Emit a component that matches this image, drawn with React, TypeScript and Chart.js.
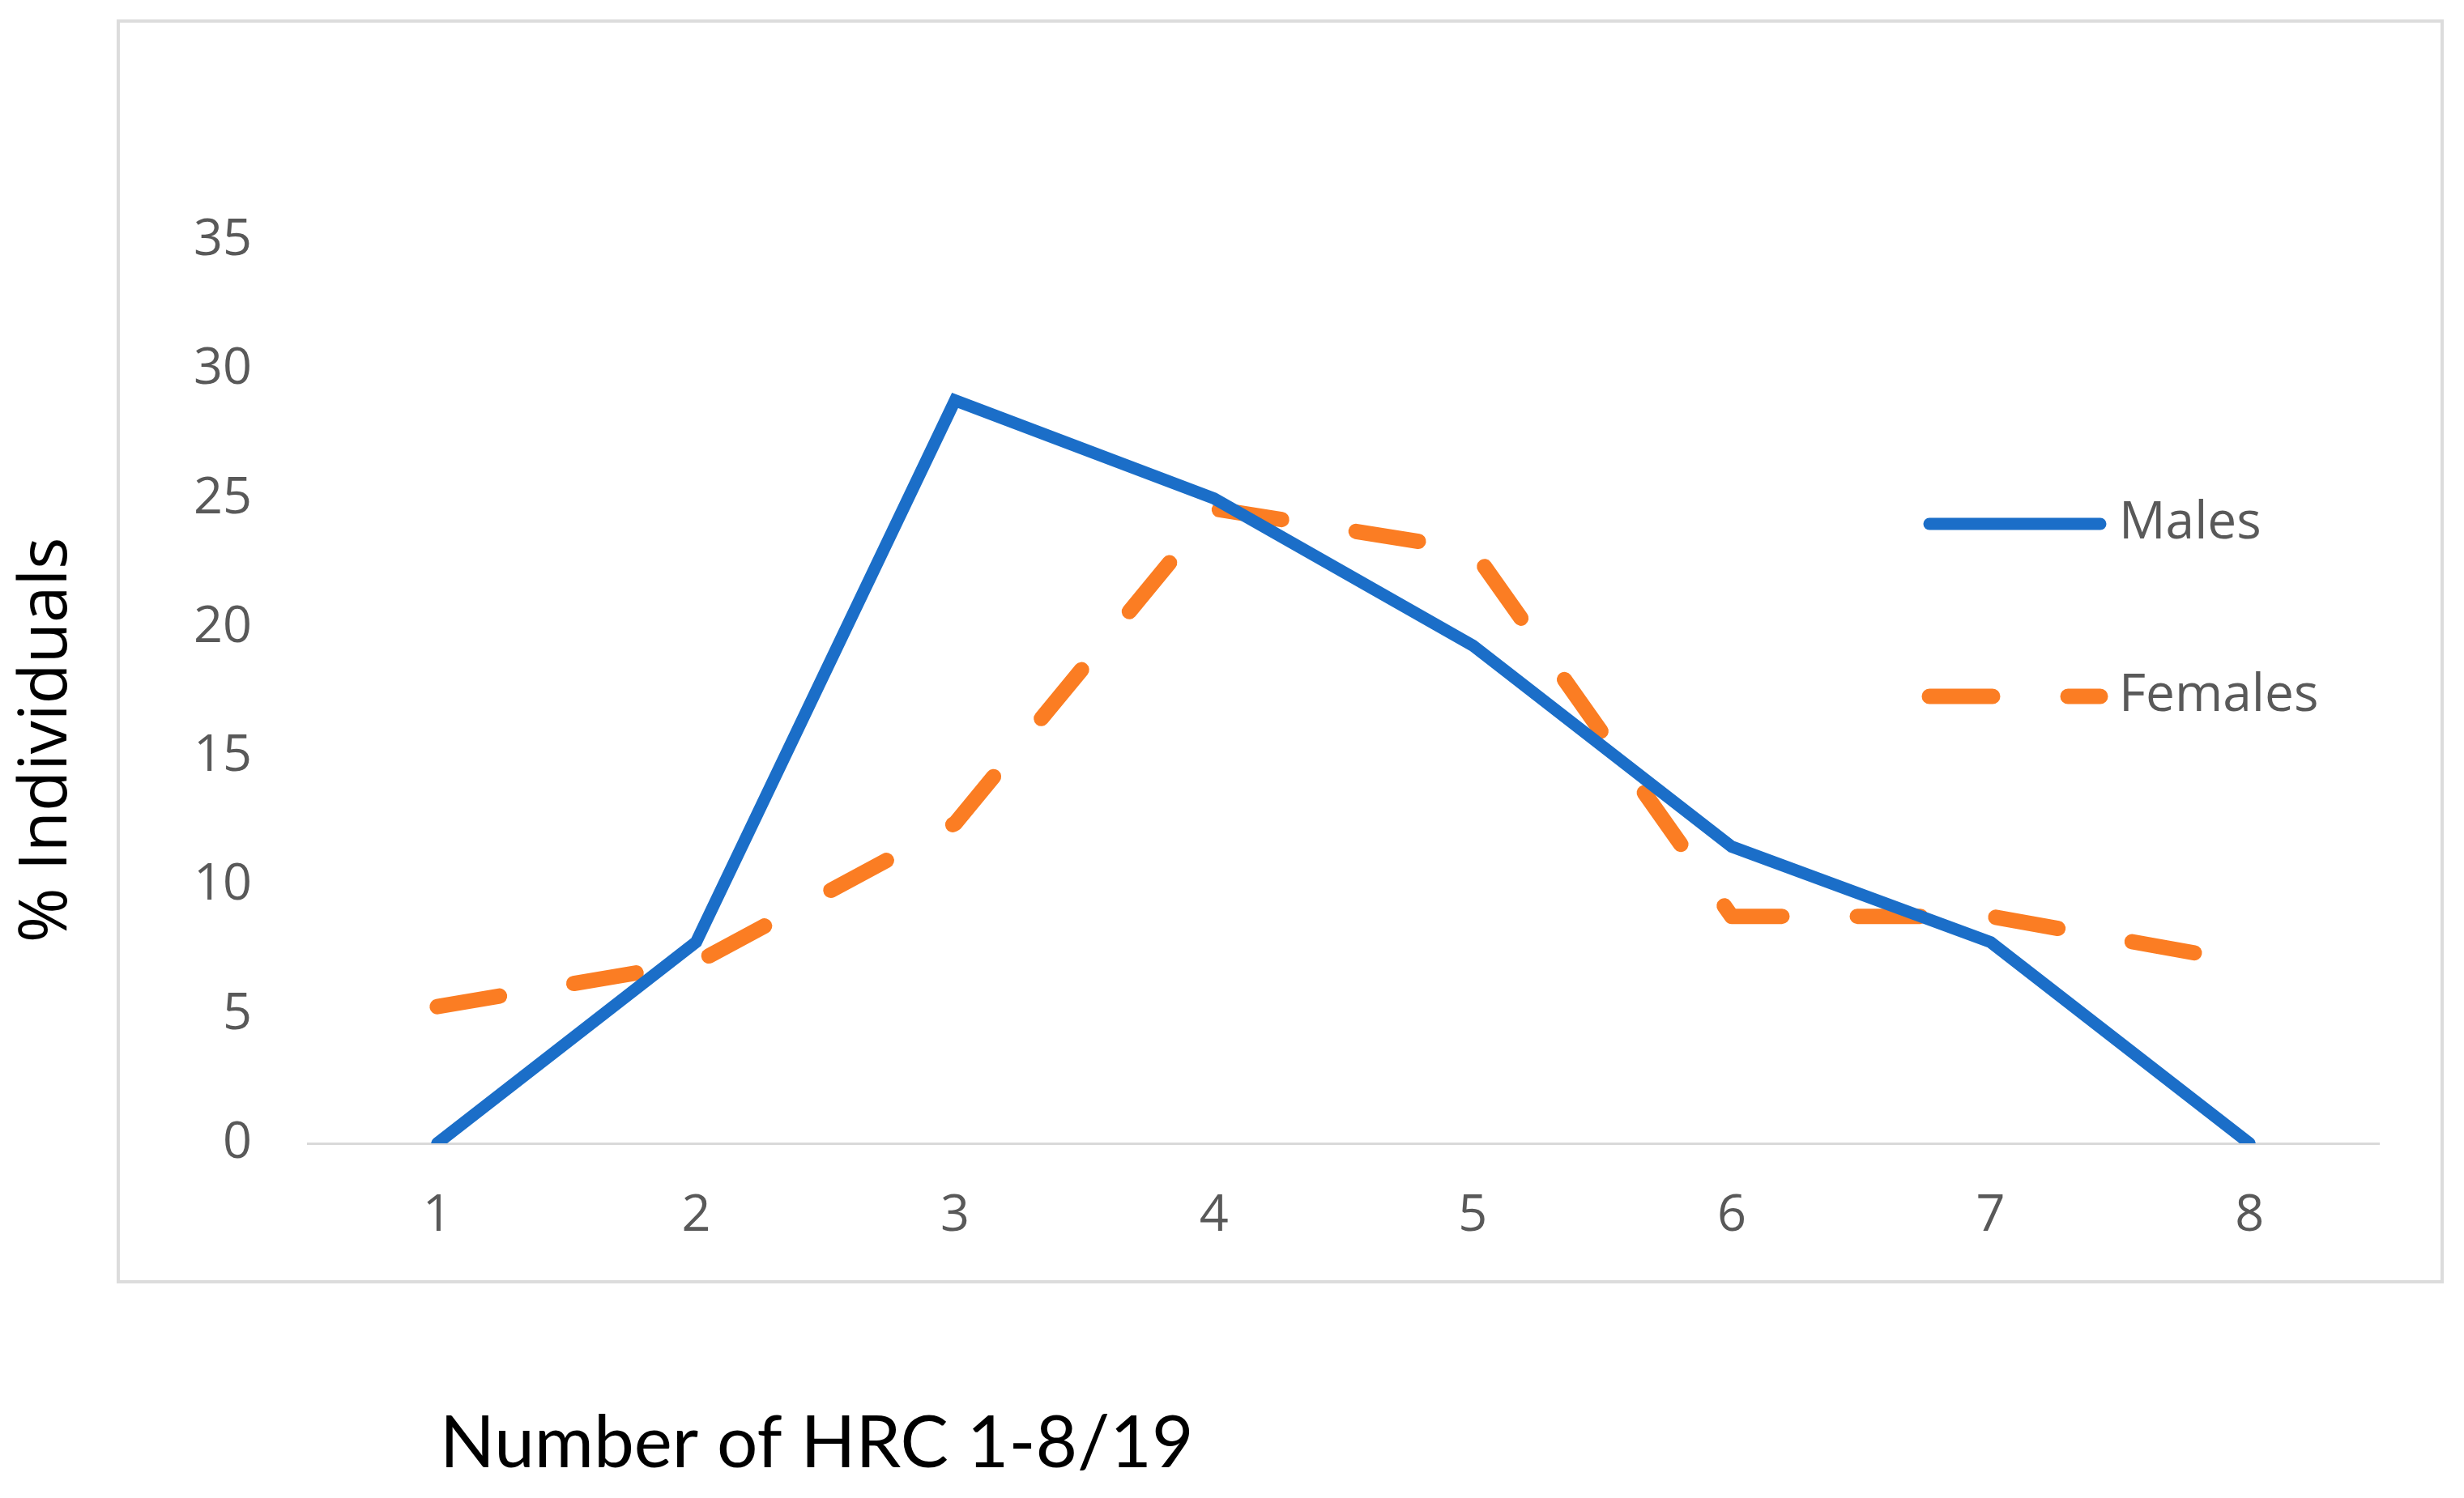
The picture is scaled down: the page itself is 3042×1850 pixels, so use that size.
import { useEffect, useRef } from "react";
import { Chart, registerables } from "chart.js";

Chart.register(...registerables);

const categories = ["1", "2", "3", "4", "5", "6", "7", "8"];
const malesValues = [0, 7.8, 28.8, 25.0, 19.3, 11.5, 7.8, 0];
const femalesValues = [5.3, 7.0, 12.4, 24.6, 23.0, 8.8, 8.8, 7.0];
const yTicks = [0, 5, 10, 15, 20, 25, 30, 35];
const seriesNames = ["Males", "Females"];
const xTitle = "Number of HRC 1-8/19";
const yTitle = "% Individuals";

const BLUE = "#1b6ec8";
const ORANGE = "#fb7d23";
const TICK_FONT = "'Open Sans', 'Noto Sans', sans-serif";
const TITLE_FONT = "Lato, 'Liberation Sans', sans-serif";

// frame, axis titles and the in-plot legend
const decorPlugin = {
  id: "decor",
  beforeDraw(chart: any) {
    const { ctx } = chart;
    ctx.save();
    ctx.fillStyle = "#ffffff";
    ctx.fillRect(0, 0, chart.width, chart.height);
    ctx.strokeStyle = "#dcdcdc";
    ctx.lineWidth = 4;
    ctx.strokeRect(146, 26, 2869, 1557);
    ctx.restore();
  },
  afterDraw(chart: any) {
    const { ctx } = chart;
    ctx.save();

    // y title
    ctx.fillStyle = "#000000";
    ctx.font = "82px 'Open Sans', sans-serif";
    ctx.translate(82, 914);
    ctx.rotate(-Math.PI / 2);
    ctx.textAlign = "center";
    ctx.textBaseline = "alphabetic";
    ctx.fillText(yTitle, 0, 0);
    ctx.setTransform(1, 0, 0, 1, 0, 0);

    // x title
    ctx.font = "89px " + TITLE_FONT;
    ctx.textAlign = "left";
    ctx.fillText(xTitle, 543, 1812);

    // legend
    const rows = [647, 860];
    chart.data.datasets.forEach((ds: any, i: number) => {
      const y = rows[i];
      ctx.save();
      ctx.strokeStyle = ds.borderColor;
      ctx.lineWidth = ds.borderWidth;
      ctx.lineCap = "round";
      ctx.setLineDash(ds.borderDash || []);
      ctx.beginPath();
      ctx.moveTo(2382, y);
      ctx.lineTo(2593, y);
      ctx.stroke();
      ctx.restore();
      ctx.fillStyle = "#595959";
      ctx.font = "64px " + TICK_FONT;
      ctx.textAlign = "left";
      ctx.textBaseline = "middle";
      ctx.fillText(ds.label, 2616, y);
    });
    ctx.restore();
  },
};

export default function App() {
  const canvasRef = useRef<HTMLCanvasElement>(null);
  const chartRef = useRef<Chart | null>(null);

  useEffect(() => {
    document.body.style.margin = "0";
    if (!canvasRef.current) return;
    if (chartRef.current) chartRef.current.destroy();

    chartRef.current = new Chart(canvasRef.current, {
      type: "line",
      data: {
        labels: categories,
        datasets: [
          {
            label: seriesNames[0],
            data: malesValues,
            borderColor: BLUE,
            backgroundColor: BLUE,
            borderWidth: 15,
            borderJoinStyle: "miter",
            borderCapStyle: "round",
            pointRadius: 0,
            tension: 0,
          },
          {
            label: seriesNames[1],
            data: femalesValues,
            borderColor: ORANGE,
            backgroundColor: ORANGE,
            borderWidth: 19,
            borderDash: [78, 93],
            borderJoinStyle: "round",
            borderCapStyle: "round",
            pointRadius: 0,
            tension: 0,
          },
        ],
      },
      options: {
        responsive: false,
        animation: false,
        events: [],
        layout: { padding: { left: 180, right: 105, top: 297, bottom: 308 } },
        plugins: {
          legend: { display: false },
          tooltip: { enabled: false },
        },
        scales: {
          x: {
            offset: true,
            grid: { display: false, drawTicks: false },
            border: { display: true, color: "#d9d9d9", width: 3 },
            ticks: {
              color: "#595959",
              font: { family: TICK_FONT, size: 63 },
              padding: 52,
              maxRotation: 0,
            },
            afterFit: (scale: any) => {
              scale.height = 130;
            },
          },
          y: {
            min: 0,
            max: 35,
            grid: { display: false, drawTicks: false },
            border: { display: false },
            ticks: {
              color: "#595959",
              font: { family: TICK_FONT, size: 63 },
              padding: 69,
            },
            afterBuildTicks: (scale: any) => {
              scale.ticks = yTicks.map((v) => ({ value: v }));
            },
            afterFit: (scale: any) => {
              scale.width = 200;
            },
          },
        },
      },
      plugins: [decorPlugin],
    });

    return () => {
      if (chartRef.current) {
        chartRef.current.destroy();
        chartRef.current = null;
      }
    };
  }, []);

  return (
    <div style={{ width: 3042, height: 1850, position: "relative" }}>
      <canvas ref={canvasRef} width={3042} height={1850} />
    </div>
  );
}
